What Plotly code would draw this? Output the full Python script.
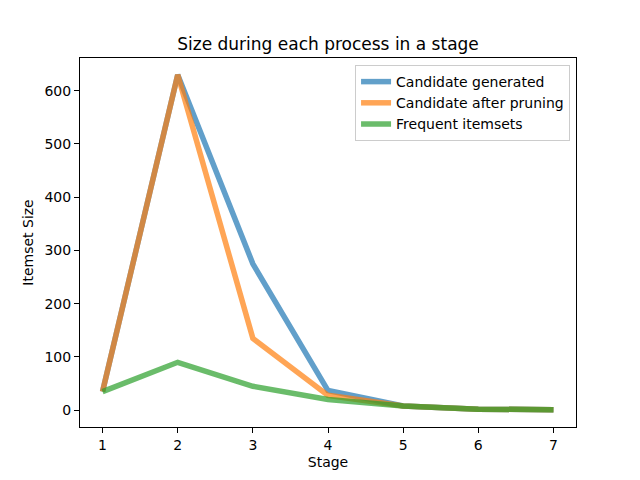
import plotly.graph_objects as go

stages = [1, 2, 3, 4, 5, 6, 7]
candidate_generated = [35, 630, 275, 37, 8, 2, 1]
candidate_pruned = [35, 630, 135, 28, 8, 2, 1]
frequent_itemsets = [35, 90, 45, 20, 8, 2, 1]

series = [
    ("Candidate generated", candidate_generated, "#1f77b4"),
    ("Candidate after pruning", candidate_pruned, "#ff7f0e"),
    ("Frequent itemsets", frequent_itemsets, "#2ca02c"),
]

fig = go.Figure()
for name, vals, color in series:
    fig.add_trace(go.Scatter(x=stages, y=vals, mode="lines", name=name,
                             line=dict(color=color, width=5.5), opacity=0.7))

font = "DejaVu Sans"
W, H = 632, 472
fig.update_layout(
    width=W, height=H,
    paper_bgcolor="white", plot_bgcolor="white",
    margin=dict(l=72, r=64, t=50, b=53, autoexpand=False),
    font=dict(family=font, size=14, color="black"),
    title=dict(text="Size during each process in a stage", x=(328 - 8) / W, xanchor="center",
               y=1 - 36 / H, yanchor="middle", font=dict(size=17, family=font)),
    legend=dict(x=0.988, xanchor="right", y=0.981, yanchor="top",
                bordercolor="#cccccc", borderwidth=1, bgcolor="rgba(255,255,255,0.8)",
                font=dict(size=14, family=font), tracegroupgap=0),
    xaxis=dict(range=[0.7, 7.3], tickvals=stages, showgrid=False, zeroline=False,
               showline=True, linecolor="black", linewidth=1, mirror=True,
               ticks="outside", ticklen=5, tickcolor="black",
               tickfont=dict(size=14, family=font),
               title=dict(text="Stage", standoff=5, font=dict(size=14, family=font))),
    yaxis=dict(range=[-31.5, 661.5], tickvals=[0, 100, 200, 300, 400, 500, 600],
               showgrid=False, zeroline=False,
               showline=True, linecolor="black", linewidth=1, mirror=True,
               ticks="outside", ticklen=5, tickcolor="black",
               tickfont=dict(size=14, family=font),
               title=dict(text="Itemset Size", standoff=7, font=dict(size=14, family=font))),
)

fig.write_html("out.html")
